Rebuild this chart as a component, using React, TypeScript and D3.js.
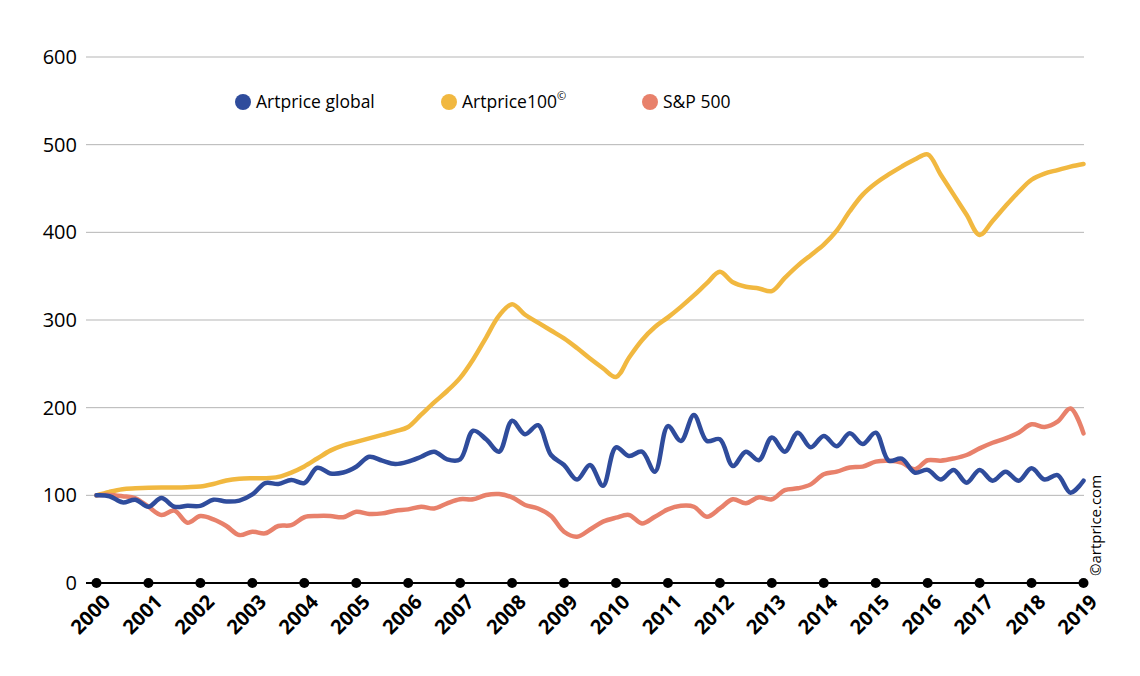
import React from "react";
import * as d3 from "d3";

const years = d3.range(2000, 2020);
const yTicks = [0, 100, 200, 300, 400, 500, 600];

// quarterly values, 2000 Q1 .. 2019 Q1
const artpriceGlobal = [
  100, 99, 92, 95,
  87, 97, 87, 88,
  88, 95, 93, 94,
  101, 114, 113, 117.5,
  114, 131.5, 125, 126,
  132.6, 144, 139.5, 135.7,
  138.4, 144, 149.8, 141,
  141, 173.7, 164, 149.8,
  185, 169.6, 180, 146,
  134.6, 118, 134.6, 111,
  154.8, 144.9, 149.8, 127,
  179, 162, 191.6, 162,
  164, 133.5, 149.8, 140,
  166, 149.8, 171.5, 154.8,
  167.7, 156, 170.7, 158.5,
  171.5, 139.5, 141.8, 126,
  129, 118, 129, 114.4,
  129, 116.7, 127, 116.7,
  130.8, 118, 123, 103,
  116.7,
];

const artprice100 = [
  100, 104, 107, 108,
  108.7, 109, 109, 109.3,
  110, 113, 117, 119,
  119.5, 119.5, 121, 126,
  133, 142, 151, 157,
  161, 165, 169, 173,
  178, 192, 206, 219,
  234, 255, 280, 305,
  318, 306, 297, 288,
  279, 268, 256, 245,
  235, 257, 277, 292,
  303, 315, 328, 342,
  355, 343, 338, 336,
  333, 348, 362, 374,
  386, 402, 424, 443,
  456, 466, 475, 483,
  489, 466, 443, 420,
  397, 413, 430, 446,
  460, 467, 471, 475,
  478,
];

const sp500 = [
  100, 100.5, 99, 96.7,
  87, 77.6, 82.5, 68.8,
  76.4, 72.6, 65, 54.7,
  58.5, 56.7, 65, 66,
  75, 76.4, 76.4, 75,
  81.3, 78.7, 79.4, 82.5,
  84, 87, 85, 90.9,
  95.5, 95.5, 100.4, 101.5,
  97.7, 89, 85, 76.4,
  58.5, 52.8, 61, 70,
  74.5, 77.6, 68, 75.6,
  84, 88, 87, 75.6,
  85, 95.5, 91, 97.7,
  95.5, 106, 108, 112.5,
  124, 127, 131.8, 132.7,
  138.4, 139.5, 137.3, 129.7,
  140, 139.5, 142, 146,
  153.6, 160, 165, 171.5,
  181, 178, 184, 199,
  170.7,
];

const seriesNames = ["Artprice global", "Artprice100\u00A9", "S&P 500"];
const seriesColors = ["#2F4C9C", "#F1B840", "#E8816B"];

export default function App() {
  const W = 1140;
  const H = 676;
  const x = d3.scaleLinear().domain([2000, 2019]).range([96.5, 1083.5]);
  const y = d3.scaleLinear().domain([0, 600]).range([583, 57]);
  const font = "'Open Sans', 'Noto Sans', sans-serif";

  const line = d3
    .line<number>()
    .x((_, i) => x(2000 + i / 4))
    .y((d) => y(d))
    .curve(d3.curveCatmullRom.alpha(0.5));

  const data = [artpriceGlobal, artprice100, sp500];
  const drawOrder = [1, 2, 0];

  return (
    <svg width={W} height={H} style={{ position: "absolute", left: 0, top: 0 }} fontFamily={font}>
      <rect width={W} height={H} fill="#fff" />
      {yTicks.map((t) => (
        <g key={t}>
          {t > 0 && (
            <line x1={86} x2={1084} y1={y(t)} y2={y(t)} stroke="#b5b5b5" strokeWidth={1} />
          )}
          <text x={77} y={y(t)} dy="0.35em" textAnchor="end" fontSize={20} fill="#000">
            {t}
          </text>
        </g>
      ))}
      {drawOrder.map((si) => (
        <path
          key={si}
          d={line(data[si]) || ""}
          fill="none"
          stroke={seriesColors[si]}
          strokeWidth={4.5}
          strokeLinejoin="round"
          strokeLinecap="round"
        />
      ))}
      <line x1={86} x2={1084} y1={y(0)} y2={y(0)} stroke="#000" strokeWidth={2} />
      {years.map((yr) => (
        <g key={yr}>
          <circle cx={x(yr)} cy={y(0)} r={5} fill="#000" />
          <text
            transform={`translate(${x(yr) + 5},${y(0) + 10}) rotate(-45)`}
            textAnchor="end"
            dy="0.72em"
            fontSize={20}
            fontWeight={700}
            fill="#000"
          >
            {yr}
          </text>
        </g>
      ))}
      {seriesNames.map((n, i) => {
        const lx = [243, 449, 650][i];
        return (
          <g key={n}>
            <circle cx={lx} cy={102} r={8} fill={seriesColors[i]} />
            <text x={lx + 13} y={102} dy="0.35em" fontSize={17.5} fill="#000">
              {i === 1 ? (
                <>
                  Artprice100
                  <tspan fontSize={11} dy="-0.7em">©</tspan>
                </>
              ) : (
                n
              )}
            </text>
          </g>
        );
      })}
      <text
        transform="translate(1096,576) rotate(-90)"
        fontSize={15}
        fill="#000"
        dy="0.35em"
      >
        ©artprice.com
      </text>
    </svg>
  );
}
